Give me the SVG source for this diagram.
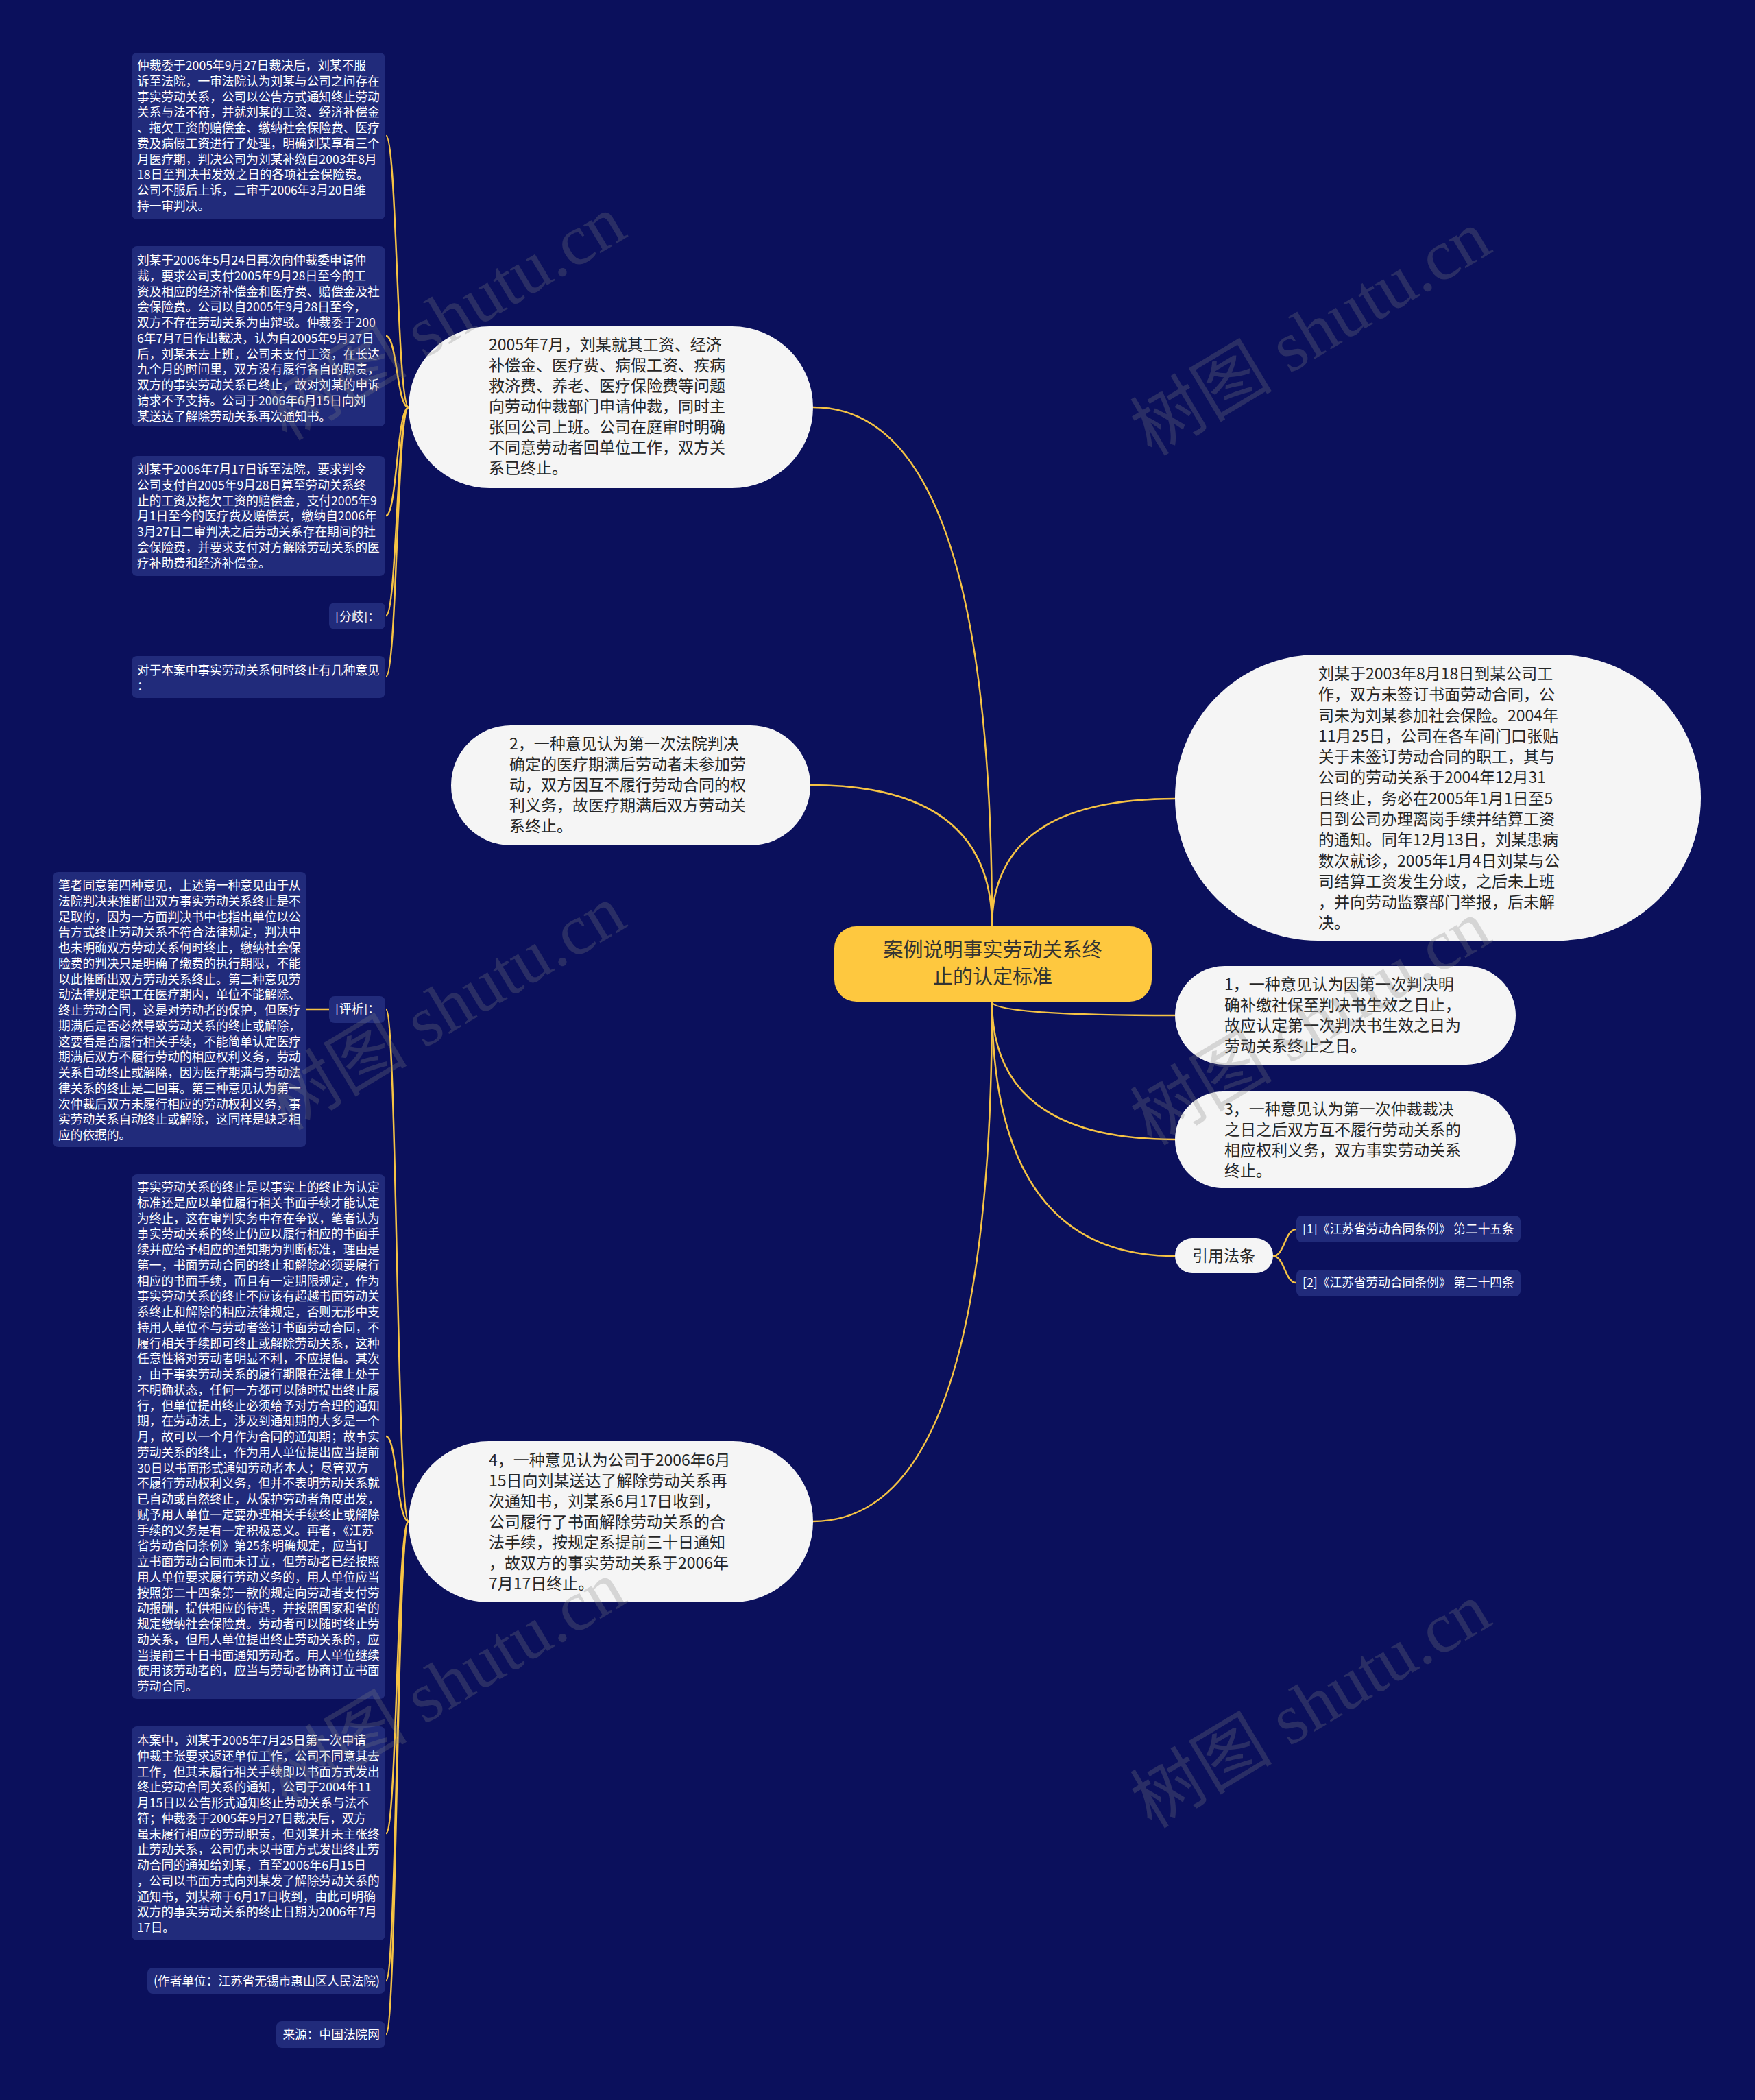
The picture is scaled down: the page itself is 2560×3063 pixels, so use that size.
<svg xmlns="http://www.w3.org/2000/svg" width="2560" height="3063" viewBox="0 0 2560 3063">
<style>
.bg{fill:#0b105c}
.leaf{fill:#212b7b}
.main{fill:#f5f5f5}
.lt{font-family:"Noto Sans CJK SC","Noto Sans",sans-serif;font-size:17.7px;fill:#ffffff}
.mt{font-family:"Noto Sans CJK SC","Noto Sans",sans-serif;font-size:23px;fill:#262626}
.ct{font-family:"Noto Sans CJK SC","Noto Sans",sans-serif;font-size:29px;fill:#333333}
.wm{font-family:"Liberation Serif","Noto Sans CJK SC",serif;font-size:104px;fill:#808080;opacity:0.27}
.cn{fill:none;stroke:#f6c344;stroke-width:2.5}
</style>
<rect class="bg" x="0" y="0" width="2560" height="3063"/>

<g id="connectors">
<path class="cn" d="M1447 1351 Q1447 594 1186 594"/>
<path class="cn" d="M1447 1351 Q1447 1145 1182 1145"/>
<path class="cn" d="M1447 1351 Q1447 1165 1714 1165"/>
<path class="cn" d="M1447 1461 Q1447 1481 1714 1481"/>
<path class="cn" d="M1447 1461 Q1447 1662 1714 1662"/>
<path class="cn" d="M1447 1461 Q1447 1832 1714 1832"/>
<path class="cn" d="M1447 1461 Q1447 2219 1186 2219"/>
<path class="cn" d="M596 594 C579 594 579 198 563 198"/>
<path class="cn" d="M596 594 C579 594 579 490 563 490"/>
<path class="cn" d="M596 594 C579 594 579 752 563 752"/>
<path class="cn" d="M596 594 C579 594 579 898 563 898"/>
<path class="cn" d="M596 594 C579 594 579 987 563 987"/>
<path class="cn" d="M596 2219 C579 2219 579 1472 563 1472"/>
<path class="cn" d="M596 2219 C579 2219 579 2095 563 2095"/>
<path class="cn" d="M596 2219 C579 2219 579 2674 563 2674"/>
<path class="cn" d="M596 2219 C579 2219 579 2889 563 2889"/>
<path class="cn" d="M596 2219 C579 2219 579 2967 563 2967"/>
<path class="cn" d="M480 1472 L447 1472"/>
<path class="cn" d="M1857 1832 C1874 1832 1874 1793 1891 1793"/>
<path class="cn" d="M1857 1832 C1874 1832 1874 1871 1891 1871"/>
</g>

<g id="center">
<rect x="1217" y="1351" width="463" height="110" rx="32" fill="#fec83f"/>
<text class="ct" text-anchor="middle"><tspan x="1448" y="1396">案例说明事实劳动关系终</tspan><tspan x="1448" y="1435">止的认定标准</tspan></text>
</g>

<g id="n2005">
<rect class="main" x="596" y="476" width="590" height="236" rx="118"/>
<text class="mt"><tspan x="713" y="511">2005年7月，刘某就其工资、经济</tspan><tspan x="713" dy="30">补偿金、医疗费、病假工资、疾病</tspan><tspan x="713" dy="30">救济费、养老、医疗保险费等问题</tspan><tspan x="713" dy="30">向劳动仲裁部门申请仲裁，同时主</tspan><tspan x="713" dy="30">张回公司上班。公司在庭审时明确</tspan><tspan x="713" dy="30">不同意劳动者回单位工作，双方关</tspan><tspan x="713" dy="30">系已终止。</tspan></text>
</g>

<g id="leaf1">
<rect class="leaf" x="192" y="77" width="370" height="243" rx="8"/>
<text class="lt"><tspan x="200" y="102">仲裁委于2005年9月27日裁决后，刘某不服</tspan><tspan x="200" dy="22.75">诉至法院，一审法院认为刘某与公司之间存在</tspan><tspan x="200" dy="22.75">事实劳动关系，公司以公告方式通知终止劳动</tspan><tspan x="200" dy="22.75">关系与法不符，并就刘某的工资、经济补偿金</tspan><tspan x="200" dy="22.75">、拖欠工资的赔偿金、缴纳社会保险费、医疗</tspan><tspan x="200" dy="22.75">费及病假工资进行了处理，明确刘某享有三个</tspan><tspan x="200" dy="22.75">月医疗期，判决公司为刘某补缴自2003年8月</tspan><tspan x="200" dy="22.75">18日至判决书发效之日的各项社会保险费。</tspan><tspan x="200" dy="22.75">公司不服后上诉，二审于2006年3月20日维</tspan><tspan x="200" dy="22.75">持一审判决。</tspan></text>
</g>

<g id="leaf2">
<rect class="leaf" x="192" y="359" width="370" height="263" rx="8"/>
<text class="lt"><tspan x="200" y="386">刘某于2006年5月24日再次向仲裁委申请仲</tspan><tspan x="200" dy="22.75">裁，要求公司支付2005年9月28日至今的工</tspan><tspan x="200" dy="22.75">资及相应的经济补偿金和医疗费、赔偿金及社</tspan><tspan x="200" dy="22.75">会保险费。公司以自2005年9月28日至今，</tspan><tspan x="200" dy="22.75">双方不存在劳动关系为由辩驳。仲裁委于200</tspan><tspan x="200" dy="22.75">6年7月7日作出裁决，认为自2005年9月27日</tspan><tspan x="200" dy="22.75">后，刘某未去上班，公司未支付工资，在长达</tspan><tspan x="200" dy="22.75">九个月的时间里，双方没有履行各自的职责，</tspan><tspan x="200" dy="22.75">双方的事实劳动关系已终止，故对刘某的申诉</tspan><tspan x="200" dy="22.75">请求不予支持。公司于2006年6月15日向刘</tspan><tspan x="200" dy="22.75">某送达了解除劳动关系再次通知书。</tspan></text>
</g>

<g id="leaf3">
<rect class="leaf" x="192" y="665" width="370" height="175" rx="8"/>
<text class="lt"><tspan x="200" y="691">刘某于2006年7月17日诉至法院，要求判令</tspan><tspan x="200" dy="22.75">公司支付自2005年9月28日算至劳动关系终</tspan><tspan x="200" dy="22.75">止的工资及拖欠工资的赔偿金，支付2005年9</tspan><tspan x="200" dy="22.75">月1日至今的医疗费及赔偿费，缴纳自2006年</tspan><tspan x="200" dy="22.75">3月27日二审判决之后劳动关系存在期间的社</tspan><tspan x="200" dy="22.75">会保险费，并要求支付对方解除劳动关系的医</tspan><tspan x="200" dy="22.75">疗补助费和经济补偿金。</tspan></text>
</g>

<g id="leaf4">
<rect class="leaf" x="480" y="879" width="82" height="39" rx="8"/>
<text class="lt" x="554" y="906" text-anchor="end">[分歧]：</text>
</g>

<g id="leaf5">
<rect class="leaf" x="192" y="957" width="370" height="61" rx="8"/>
<text class="lt"><tspan x="200" y="984">对于本案中事实劳动关系何时终止有几种意见</tspan><tspan x="200" dy="22.75">：</tspan></text>
</g>

<g id="n2">
<rect class="main" x="658" y="1058" width="524" height="175" rx="87"/>
<text class="mt"><tspan x="743" y="1093">2，一种意见认为第一次法院判决</tspan><tspan x="743" dy="30">确定的医疗期满后劳动者未参加劳</tspan><tspan x="743" dy="30">动，双方因互不履行劳动合同的权</tspan><tspan x="743" dy="30">利义务，故医疗期满后双方劳动关</tspan><tspan x="743" dy="30">系终止。</tspan></text>
</g>

<g id="nright">
<rect class="main" x="1714" y="955" width="767" height="417" rx="208"/>
<text class="mt"><tspan x="1923" y="991">刘某于2003年8月18日到某公司工</tspan><tspan x="1923" dy="30.28">作，双方未签订书面劳动合同，公</tspan><tspan x="1923" dy="30.28">司未为刘某参加社会保险。2004年</tspan><tspan x="1923" dy="30.28">11月25日，公司在各车间门口张贴</tspan><tspan x="1923" dy="30.28">关于未签订劳动合同的职工，其与</tspan><tspan x="1923" dy="30.28">公司的劳动关系于2004年12月31</tspan><tspan x="1923" dy="30.28">日终止，务必在2005年1月1日至5</tspan><tspan x="1923" dy="30.28">日到公司办理离岗手续并结算工资</tspan><tspan x="1923" dy="30.28">的通知。同年12月13日，刘某患病</tspan><tspan x="1923" dy="30.28">数次就诊，2005年1月4日刘某与公</tspan><tspan x="1923" dy="30.28">司结算工资发生分歧，之后未上班</tspan><tspan x="1923" dy="30.28">，并向劳动监察部门举报，后未解</tspan><tspan x="1923" dy="30.28">决。</tspan></text>
</g>

<g id="n1">
<rect class="main" x="1714" y="1409" width="497" height="144" rx="72"/>
<text class="mt"><tspan x="1786" y="1444">1，一种意见认为因第一次判决明</tspan><tspan x="1786" dy="30">确补缴社保至判决书生效之日止，</tspan><tspan x="1786" dy="30">故应认定第一次判决书生效之日为</tspan><tspan x="1786" dy="30">劳动关系终止之日。</tspan></text>
</g>

<g id="n3">
<rect class="main" x="1714" y="1592" width="497" height="141" rx="70"/>
<text class="mt"><tspan x="1786" y="1626">3，一种意见认为第一次仲裁裁决</tspan><tspan x="1786" dy="30">之日之后双方互不履行劳动关系的</tspan><tspan x="1786" dy="30">相应权利义务，双方事实劳动关系</tspan><tspan x="1786" dy="30">终止。</tspan></text>
</g>

<g id="nlaw">
<rect class="main" x="1714" y="1806" width="143" height="51" rx="25"/>
<text class="mt" x="1785" y="1840" text-anchor="middle">引用法条</text>
</g>

<g id="law1">
<rect class="leaf" x="1891" y="1773" width="327" height="39" rx="8"/>
<text class="lt" x="1900" y="1799">[1]《江苏省劳动合同条例》 第二十五条</text>
</g>

<g id="law2">
<rect class="leaf" x="1891" y="1852" width="327" height="39" rx="8"/>
<text class="lt" x="1900" y="1877">[2]《江苏省劳动合同条例》 第二十四条</text>
</g>

<g id="n4">
<rect class="main" x="596" y="2102" width="590" height="235" rx="117"/>
<text class="mt"><tspan x="713" y="2138">4，一种意见认为公司于2006年6月</tspan><tspan x="713" dy="30">15日向刘某送达了解除劳动关系再</tspan><tspan x="713" dy="30">次通知书，刘某系6月17日收到，</tspan><tspan x="713" dy="30">公司履行了书面解除劳动关系的合</tspan><tspan x="713" dy="30">法手续，按规定系提前三十日通知</tspan><tspan x="713" dy="30">，故双方的事实劳动关系于2006年</tspan><tspan x="713" dy="30">7月17日终止。</tspan></text>
</g>

<g id="pingxi">
<rect class="leaf" x="480" y="1453" width="82" height="39" rx="8"/>
<text class="lt" x="554" y="1478" text-anchor="end">[评析]：</text>
</g>

<g id="bizhe">
<rect class="leaf" x="77" y="1272" width="370" height="401" rx="8"/>
<text class="lt"><tspan x="85" y="1298">笔者同意第四种意见，上述第一种意见由于从</tspan><tspan x="85" dy="22.75">法院判决来推断出双方事实劳动关系终止是不</tspan><tspan x="85" dy="22.75">足取的，因为一方面判决书中也指出单位以公</tspan><tspan x="85" dy="22.75">告方式终止劳动关系不符合法律规定，判决中</tspan><tspan x="85" dy="22.75">也未明确双方劳动关系何时终止，缴纳社会保</tspan><tspan x="85" dy="22.75">险费的判决只是明确了缴费的执行期限，不能</tspan><tspan x="85" dy="22.75">以此推断出双方劳动关系终止。第二种意见劳</tspan><tspan x="85" dy="22.75">动法律规定职工在医疗期内，单位不能解除、</tspan><tspan x="85" dy="22.75">终止劳动合同，这是对劳动者的保护，但医疗</tspan><tspan x="85" dy="22.75">期满后是否必然导致劳动关系的终止或解除，</tspan><tspan x="85" dy="22.75">这要看是否履行相关手续，不能简单认定医疗</tspan><tspan x="85" dy="22.75">期满后双方不履行劳动的相应权利义务，劳动</tspan><tspan x="85" dy="22.75">关系自动终止或解除，因为医疗期满与劳动法</tspan><tspan x="85" dy="22.75">律关系的终止是二回事。第三种意见认为第一</tspan><tspan x="85" dy="22.75">次仲裁后双方未履行相应的劳动权利义务，事</tspan><tspan x="85" dy="22.75">实劳动关系自动终止或解除，这同样是缺乏相</tspan><tspan x="85" dy="22.75">应的依据的。</tspan></text>
</g>

<g id="shishi">
<rect class="leaf" x="192" y="1713" width="370" height="765" rx="8"/>
<text class="lt"><tspan x="200" y="1738">事实劳动关系的终止是以事实上的终止为认定</tspan><tspan x="200" dy="22.75">标准还是应以单位履行相关书面手续才能认定</tspan><tspan x="200" dy="22.75">为终止，这在审判实务中存在争议，笔者认为</tspan><tspan x="200" dy="22.75">事实劳动关系的终止仍应以履行相应的书面手</tspan><tspan x="200" dy="22.75">续并应给予相应的通知期为判断标准，理由是</tspan><tspan x="200" dy="22.75">第一，书面劳动合同的终止和解除必须要履行</tspan><tspan x="200" dy="22.75">相应的书面手续，而且有一定期限规定，作为</tspan><tspan x="200" dy="22.75">事实劳动关系的终止不应该有超越书面劳动关</tspan><tspan x="200" dy="22.75">系终止和解除的相应法律规定，否则无形中支</tspan><tspan x="200" dy="22.75">持用人单位不与劳动者签订书面劳动合同，不</tspan><tspan x="200" dy="22.75">履行相关手续即可终止或解除劳动关系，这种</tspan><tspan x="200" dy="22.75">任意性将对劳动者明显不利，不应提倡。其次</tspan><tspan x="200" dy="22.75">，由于事实劳动关系的履行期限在法律上处于</tspan><tspan x="200" dy="22.75">不明确状态，任何一方都可以随时提出终止履</tspan><tspan x="200" dy="22.75">行，但单位提出终止必须给予对方合理的通知</tspan><tspan x="200" dy="22.75">期，在劳动法上，涉及到通知期的大多是一个</tspan><tspan x="200" dy="22.75">月，故可以一个月作为合同的通知期；故事实</tspan><tspan x="200" dy="22.75">劳动关系的终止，作为用人单位提出应当提前</tspan><tspan x="200" dy="22.75">30日以书面形式通知劳动者本人；尽管双方</tspan><tspan x="200" dy="22.75">不履行劳动权利义务，但并不表明劳动关系就</tspan><tspan x="200" dy="22.75">已自动或自然终止，从保护劳动者角度出发，</tspan><tspan x="200" dy="22.75">赋予用人单位一定要办理相关手续终止或解除</tspan><tspan x="200" dy="22.75">手续的义务是有一定积极意义。再者，《江苏</tspan><tspan x="200" dy="22.75">省劳动合同条例》第25条明确规定，应当订</tspan><tspan x="200" dy="22.75">立书面劳动合同而未订立，但劳动者已经按照</tspan><tspan x="200" dy="22.75">用人单位要求履行劳动义务的，用人单位应当</tspan><tspan x="200" dy="22.75">按照第二十四条第一款的规定向劳动者支付劳</tspan><tspan x="200" dy="22.75">动报酬，提供相应的待遇，并按照国家和省的</tspan><tspan x="200" dy="22.75">规定缴纳社会保险费。劳动者可以随时终止劳</tspan><tspan x="200" dy="22.75">动关系，但用人单位提出终止劳动关系的，应</tspan><tspan x="200" dy="22.75">当提前三十日书面通知劳动者。用人单位继续</tspan><tspan x="200" dy="22.75">使用该劳动者的，应当与劳动者协商订立书面</tspan><tspan x="200" dy="22.75">劳动合同。</tspan></text>
</g>

<g id="benan">
<rect class="leaf" x="192" y="2518" width="370" height="312" rx="8"/>
<text class="lt"><tspan x="200" y="2545">本案中，刘某于2005年7月25日第一次申请</tspan><tspan x="200" dy="22.75">仲裁主张要求返还单位工作，公司不同意其去</tspan><tspan x="200" dy="22.75">工作，但其未履行相关手续即以书面方式发出</tspan><tspan x="200" dy="22.75">终止劳动合同关系的通知，公司于2004年11</tspan><tspan x="200" dy="22.75">月15日以公告形式通知终止劳动关系与法不</tspan><tspan x="200" dy="22.75">符；仲裁委于2005年9月27日裁决后，双方</tspan><tspan x="200" dy="22.75">虽未履行相应的劳动职责，但刘某并未主张终</tspan><tspan x="200" dy="22.75">止劳动关系，公司仍未以书面方式发出终止劳</tspan><tspan x="200" dy="22.75">动合同的通知给刘某，直至2006年6月15日</tspan><tspan x="200" dy="22.75">，公司以书面方式向刘某发了解除劳动关系的</tspan><tspan x="200" dy="22.75">通知书，刘某称于6月17日收到，由此可明确</tspan><tspan x="200" dy="22.75">双方的事实劳动关系的终止日期为2006年7月</tspan><tspan x="200" dy="22.75">17日。</tspan></text>
</g>

<g id="author">
<rect class="leaf" x="215" y="2870" width="347" height="38" rx="8"/>
<text class="lt" x="224" y="2896" textLength="330" lengthAdjust="spacingAndGlyphs">(作者单位：江苏省无锡市惠山区人民法院)</text>
</g>

<g id="source">
<rect class="leaf" x="403" y="2948" width="159" height="39" rx="8"/>
<text class="lt" x="554" y="2974" text-anchor="end">来源：中国法院网</text>
</g>

<g id="watermarks">
<text class="wm" text-anchor="middle" transform="translate(668 494) rotate(-31)">树图 shutu.cn</text>
<text class="wm" text-anchor="middle" transform="translate(1930 516) rotate(-31)">树图 shutu.cn</text>
<text class="wm" text-anchor="middle" transform="translate(668 1500) rotate(-31)">树图 shutu.cn</text>
<text class="wm" text-anchor="middle" transform="translate(1930 1522) rotate(-31)">树图 shutu.cn</text>
<text class="wm" text-anchor="middle" transform="translate(668 2486) rotate(-31)">树图 shutu.cn</text>
<text class="wm" text-anchor="middle" transform="translate(1930 2518) rotate(-31)">树图 shutu.cn</text>
</g>
</svg>
